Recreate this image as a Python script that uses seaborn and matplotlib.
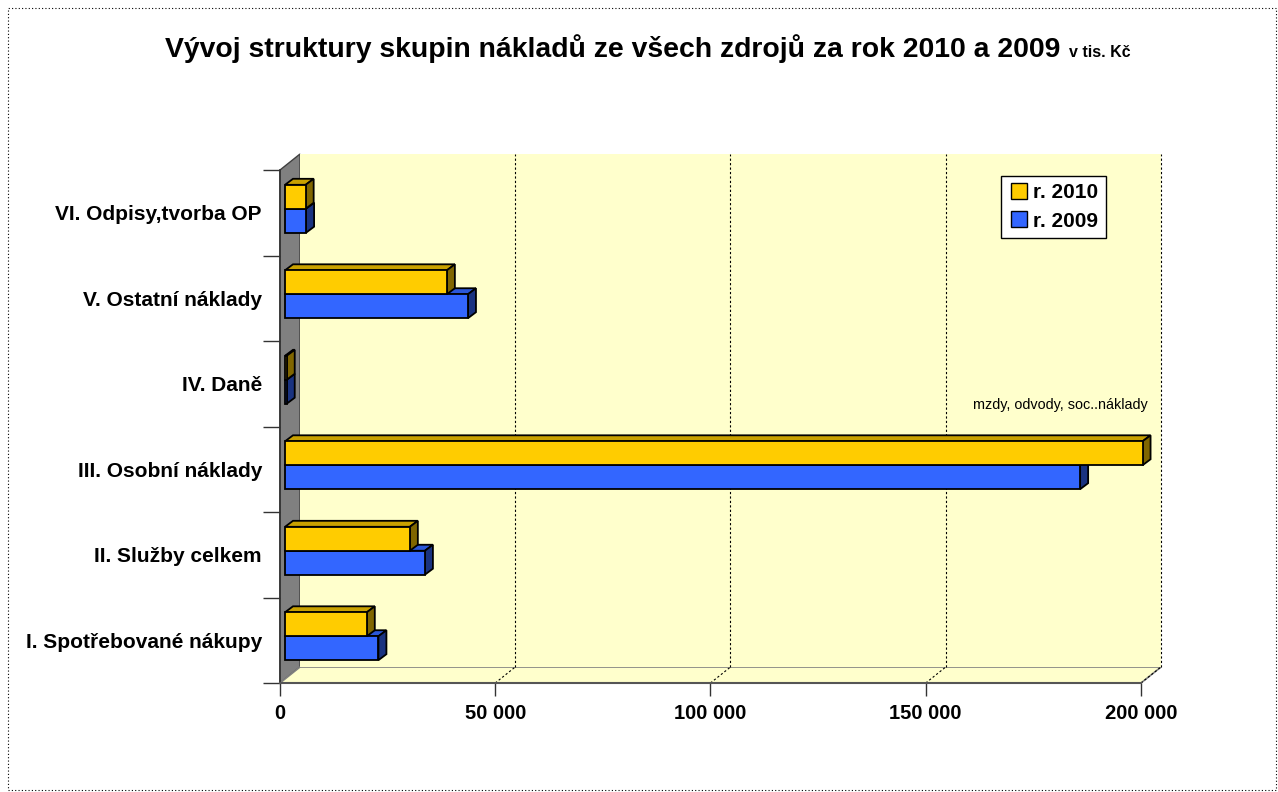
import numpy as np
import pandas as pd
import seaborn as sns
import matplotlib.pyplot as plt
from matplotlib.patches import Polygon, Rectangle
from matplotlib.lines import Line2D
from matplotlib.transforms import offset_copy, IdentityTransform
from matplotlib.ticker import FuncFormatter

categories = ["I. Spotřebované nákupy", "II. Služby celkem", "III. Osobní náklady",
              "IV. Daně", "V. Ostatní náklady", "VI. Odpisy,tvorba OP"]
r2010 = [19000, 29000, 199200, 400, 37600, 4800]
r2009 = [21700, 32500, 184700, 400, 42500, 4900]
years = ["r. 2010", "r. 2009"]
x_ticks = [0, 50000, 100000, 150000, 200000]

df = pd.DataFrame({
    "kategorie": categories * 2,
    "rok": [years[0]] * len(categories) + [years[1]] * len(categories),
    "hodnota": r2010 + r2009,
})

sns.set_style("white")
plt.rcParams["font.family"] = ["Liberation Sans", "DejaVu Sans"]
plt.rcParams["text.color"] = "black"
plt.rcParams["xtick.color"] = "black"
plt.rcParams["ytick.color"] = "black"

W, H = 1278, 792
fig = plt.figure(figsize=(W / 100, H / 100), dpi=100)
ax = fig.add_axes([280 / W, 1 - 683 / H, (1141 - 280) / W, (683 - 170) / H])
ax.patch.set_alpha(0)

face = {"r. 2010": "#FFCC00", "r. 2009": "#3366FF"}
top_c = {"r. 2010": "#C9A100", "r. 2009": "#2B57D9"}
side_c = {"r. 2010": "#806600", "r. 2009": "#1A3380"}

sns.barplot(data=df, y="kategorie", x="hodnota", hue="rok", hue_order=years,
            order=categories[::-1], palette=face, saturation=1, width=0.56, dodge=True,
            edgecolor="black", linewidth=1.3, legend=False, ax=ax)

ax.set_xlim(0, 200000)
ax.set_ylim(len(categories) - 0.5, -0.5)
fig.canvas.draw()

# depth offsets in pixels
WX, WY = 20, 16          # back wall
BX, BY = 5, 4            # bar front plane
DX, DY = 8, 6            # bar thickness

to_disp = ax.transData.transform
x0d, y0d = to_disp((0, len(categories) - 0.5))
x1d, y1d = to_disp((200000, -0.5))
ident = IdentityTransform()

# left wall, floor, back wall (behind the axes)
fig.patches.append(Polygon([(x0d, y1d), (x0d + WX, y1d + WY), (x0d + WX, y0d + WY), (x0d, y0d)],
                           closed=True, transform=ident, facecolor="#808080",
                           edgecolor="#404040", lw=1, zorder=-3))
fig.patches.append(Polygon([(x0d, y0d), (x0d + WX, y0d + WY), (x1d + WX, y0d + WY), (x1d, y0d)],
                           closed=True, transform=ident, facecolor="#FFFFCC",
                           edgecolor="#808080", lw=1.2, zorder=-3))
fig.patches.append(Rectangle((x0d + WX, y0d + WY), x1d - x0d, y1d - y0d, transform=ident,
                             facecolor="#FFFFCC", edgecolor="none", zorder=-3))
for xv in x_ticks[1:]:
    xd, _ = to_disp((xv, 0))
    fig.lines.append(Line2D([xd + WX, xd + WX], [y0d + WY, y1d + WY], transform=ident,
                            color="black", lw=0.8, ls=(0, (2, 2)), zorder=-2))
    fig.lines.append(Line2D([xd, xd + WX], [y0d, y0d + WY], transform=ident,
                            color="black", lw=0.8, ls=(0, (2, 2)), zorder=-2))

# 3D bars
bars = list(ax.patches)
n = len(categories)
bar_off = offset_copy(ax.transData, fig=fig, x=BX, y=BY, units="dots")
for i, p in enumerate(bars):
    yr = years[i // n]
    z = 3 if yr == "r. 2009" else 4
    xa, ya = to_disp((p.get_x(), p.get_y() + p.get_height()))
    xb, yb = to_disp((p.get_x() + p.get_width(), p.get_y()))
    xa += BX; xb += BX; ya += BY; yb += BY
    p.set_transform(bar_off)
    p.set_zorder(z + 0.5)
    p.set_clip_on(False)
    top = Polygon([(xa, yb), (xb, yb), (xb + DX, yb + DY), (xa + DX, yb + DY)], closed=True,
                  transform=ident, facecolor=top_c[yr], edgecolor="black", lw=1.3,
                  zorder=z, clip_on=False)
    side = Polygon([(xb, ya), (xb, yb), (xb + DX, yb + DY), (xb + DX, ya + DY)], closed=True,
                   transform=ident, facecolor=side_c[yr], edgecolor="black", lw=1.3,
                   zorder=z, clip_on=False)
    ax.add_patch(top)
    ax.add_patch(side)

# axes styling
for s in ["top", "right"]:
    ax.spines[s].set_visible(False)
ax.spines["left"].set_color("#333333")
ax.spines["bottom"].set_color("#555555")
ax.spines["left"].set_linewidth(1.2)
ax.spines["bottom"].set_linewidth(1.5)
ax.set_xticks(x_ticks)
ax.xaxis.set_major_formatter(FuncFormatter(lambda v, _: f"{int(v):,}".replace(",", " ")))
ax.tick_params(axis="x", direction="out", length=9, width=1, color="#333333", pad=6,
               labelsize=14.5, bottom=True)
for t in ax.get_xticklabels():
    t.set_fontweight("bold")
ax.set_yticks(np.arange(n))
ax.set_yticks(np.arange(n + 1) - 0.5, minor=True)
ax.tick_params(axis="y", which="major", length=0, pad=13, labelsize=15)
ax.tick_params(axis="y", which="minor", direction="out", length=12, width=1, color="#333333", left=True)
for t in ax.get_yticklabels():
    t.set_fontweight("bold")
ax.set_xlabel("")
ax.set_ylabel("")

ax.text(201500, 2.25, "mzdy, odvody, soc..náklady", ha="right", va="center", fontsize=10.4)

# legend
handles = [Line2D([], [], marker="s", ls="none", markersize=12, markerfacecolor=face[y],
                  markeredgecolor="black", label=y) for y in years]
leg = fig.legend(handles=handles, loc="upper left", bbox_to_anchor=(1001 / W, 1 - 176 / H),
                 frameon=True, fancybox=False, edgecolor="black", framealpha=1,
                 prop={"weight": "bold", "size": 15}, handletextpad=0.2,
                 borderpad=0.35, labelspacing=0.45, handlelength=1.0, borderaxespad=0)
leg.get_frame().set_linewidth(1)

# title
main = fig.text(165 / W, 1 - 49 / H, "Vývoj struktury skupin nákladů ze všech zdrojů za rok 2010 a 2009",
                ha="left", va="center", fontsize=20.4, fontweight="bold")
ax.annotate("  v tis. Kč", xy=(1, 0.12), xycoords=main, ha="left", va="bottom",
            fontsize=11.5, fontweight="bold", annotation_clip=False)

# dotted frame
fig.patches.append(Rectangle((8, 2), W - 10, H - 10, transform=ident, fill=False,
                             edgecolor="black", lw=0.8, ls=(0, (1, 2)), zorder=-4))

fig.savefig("out.png", dpi=100)
